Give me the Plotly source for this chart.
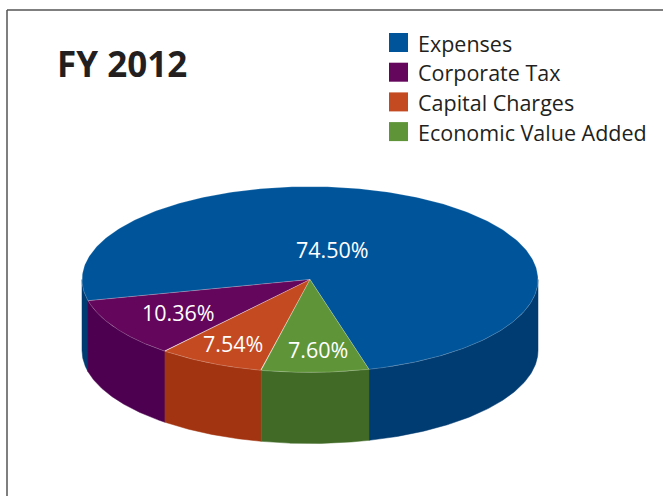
import numpy as np
import plotly.graph_objects as go

# FY 2012 breakdown
categories = ["Expenses", "Corporate Tax", "Capital Charges", "Economic Value Added"]
shares = [74.50, 10.36, 7.54, 7.60]
top_colors = ["#00559a", "#63065c", "#c34a21", "#5f9538"]
side_colors = ["#003b71", "#4c004f", "#a33411", "#416a26"]

title_text = "FY 2012"

# canvas in pixel units (y grows downward)
W, H = 663, 496
CX, CY = 310, 279.5      # centre of the top face
RX, RY = 228, 93         # ellipse radii of the top face
DEPTH = 71               # thickness of the disc
START = 75.0             # screen angle (deg, clockwise) where the first slice begins

# label placement: radial fraction and angular nudge per slice
label_r = [0.34, 0.68, 0.77, 0.75]
label_shift = [-14.0, 0.0, 0.0, -1.5]


def ell(t_deg, dy=0.0):
    t = np.radians(t_deg)
    return CX + RX * np.cos(t), CY + RY * np.sin(t) + dy


# slice angular extents, counter-clockwise on screen (decreasing t)
total = sum(shares)
spans = []
end = START + 360.0
for s in shares:
    sweep = 360.0 * s / total
    spans.append((end - sweep, end))
    end -= sweep

fig = go.Figure()

# visible front walls of the disc
for (t1, t2), col in zip(spans, side_colors):
    for lo_w, hi_w in [(0, 180), (360, 540), (-360, -180)]:
        lo, hi = max(t1, lo_w), min(t2, hi_w)
        if hi <= lo:
            continue
        ts = np.linspace(lo, hi, 120)
        xt, yt = ell(ts)
        xb, yb = ell(ts[::-1], DEPTH)
        fig.add_trace(go.Scatter(
            x=np.concatenate([xt, xb, xt[:1]]),
            y=np.concatenate([yt, yb, yt[:1]]),
            mode="lines", fill="toself", fillcolor=col,
            line=dict(color=col, width=0.5),
            hoverinfo="skip", showlegend=False))

# top face wedges
for (t1, t2), col, name, s in zip(spans, top_colors, categories, shares):
    ts = np.linspace(t1, t2, 300)
    xa, ya = ell(ts)
    fig.add_trace(go.Scatter(
        x=np.concatenate([[CX], xa, [CX]]),
        y=np.concatenate([[CY], ya, [CY]]),
        mode="lines", fill="toself", fillcolor=col,
        line=dict(color="rgba(255,255,255,0.28)", width=0.7),
        name=name, hovertemplate=f"{name}: {s:.2f}%<extra></extra>",
        showlegend=False))

# percentage labels
for (t1, t2), s, fr, sh in zip(spans, shares, label_r, label_shift):
    mid = np.radians((t1 + t2) / 2 + sh)
    lx = CX + RX * fr * np.cos(mid)
    ly = CY + RY * fr * np.sin(mid)
    fig.add_annotation(x=lx, y=ly, text=f"{s:.2f}%", showarrow=False,
                       xanchor="center", yanchor="middle",
                       font=dict(family="Open Sans", size=21.5, color="white"))

# legend: coloured squares with names
LEG_X, LEG_Y, LEG_STEP, SQ = 389, 33, 29.7, 19
for i, (name, col) in enumerate(zip(categories, top_colors)):
    y0 = LEG_Y + i * LEG_STEP
    fig.add_shape(type="rect", x0=LEG_X, x1=LEG_X + SQ, y0=y0, y1=y0 + SQ,
                  fillcolor=col, line=dict(width=0), layer="above")
    fig.add_annotation(x=LEG_X + SQ + 8, y=y0 + SQ / 2 + 0.5, text=name,
                       showarrow=False, xanchor="left", yanchor="middle",
                       font=dict(family="Open Sans", size=21.5, color="#231f20"))

# title
fig.add_annotation(x=55, y=63, text=f"<b>{title_text}</b>", showarrow=False,
                   xanchor="left", yanchor="middle",
                   font=dict(family="Open Sans", size=35, color="#231f20"))

# frame (top and left rules)
fig.add_shape(type="line", x0=7, x1=W + 5, y0=10, y1=10,
              line=dict(color="#555555", width=1.5))
fig.add_shape(type="line", x0=7, x1=7, y0=10, y1=H + 5,
              line=dict(color="#555555", width=1.5))

fig.update_layout(
    width=W, height=H,
    margin=dict(l=0, r=0, t=0, b=0),
    paper_bgcolor="white", plot_bgcolor="white",
    xaxis=dict(range=[0, W], visible=False, fixedrange=True),
    yaxis=dict(range=[H, 0], visible=False, fixedrange=True),
    showlegend=False,
)

fig.write_html("out.html")
